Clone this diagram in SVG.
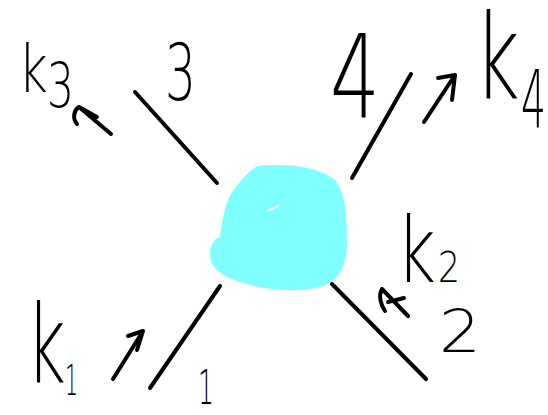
<svg xmlns="http://www.w3.org/2000/svg" width="548" height="415" viewBox="0 0 548 415">
<style>
.leg{stroke:#000;stroke-width:4;stroke-linecap:round;fill:none}
.arr{stroke:#000;stroke-width:4;stroke-linecap:round;stroke-linejoin:round;fill:none}
.t{font-family:"DejaVu Sans","Liberation Sans",sans-serif;font-weight:200;fill:#000}
</style>
<rect width="548" height="415" fill="#fff"/>
<g id="blob">
<path d="M258,166 C285,163 318,166 335,180 C346,195 347,215 347,245 C346,268 338,282 320,287 C300,292 270,291 250,285 C232,280 218,274 212,264 C208,254 210,240 220,237 C222,222 225,200 235,188 C243,178 250,170 258,166 Z" fill="#80ffff"/>
<path d="M268,211 L278,206" stroke="#fff" stroke-width="2" stroke-linecap="round"/>
</g>
<g id="connectors">
<line class="leg" x1="135" y1="92" x2="217" y2="183"/>
<line class="leg" x1="411" y1="74" x2="352" y2="178"/>
<line class="leg" x1="220" y1="286" x2="150" y2="388"/>
<line class="leg" x1="332" y1="284" x2="426" y2="379"/>
</g>
<g id="momentum-arrows">
<path class="arr" d="M111,134 L79,107 M79,107 C74,110 72,118 77,124 M79,107 L97,117"/>
<path class="arr" d="M424,122 L455,75 M438,78 L455,75 L452,100"/>
<path class="arr" d="M113,379 L143,331 M128,336 L143,331 L137,350"/>
<path class="arr" d="M408,316 L382,289 M382,289 C378,296 381,305 385,311 M388,302 L404,298"/>
</g>
<g id="labels">
<text class="t"><tspan x="18" y="92" font-size="66" textLength="30" lengthAdjust="spacingAndGlyphs">k</tspan><tspan x="47" y="107" font-size="62" textLength="27" lengthAdjust="spacingAndGlyphs">3</tspan></text>
<text class="t" x="165" y="100" font-size="78" textLength="31" lengthAdjust="spacingAndGlyphs">3</text>
<text class="t" x="330" y="117" font-size="116" textLength="50" lengthAdjust="spacingAndGlyphs">4</text>
<text class="t"><tspan x="474" y="99" font-size="118" textLength="46" lengthAdjust="spacingAndGlyphs">k</tspan><tspan x="521" y="128" font-size="80" textLength="25" lengthAdjust="spacingAndGlyphs">4</tspan></text>
<text class="t"><tspan x="26" y="383" font-size="108" textLength="40" lengthAdjust="spacingAndGlyphs">k</tspan><tspan x="65" y="395" font-size="42" textLength="13" lengthAdjust="spacingAndGlyphs">1</tspan></text>
<text class="t" x="198" y="404" font-size="48" textLength="16" lengthAdjust="spacingAndGlyphs">1</text>
<text class="t"><tspan x="396" y="282" font-size="90" textLength="40" lengthAdjust="spacingAndGlyphs">k</tspan><tspan x="438" y="282" font-size="42" textLength="22" lengthAdjust="spacingAndGlyphs">2</tspan></text>
<text class="t" x="439" y="352" font-size="58" textLength="42" lengthAdjust="spacingAndGlyphs">2</text>
</g>
</svg>
